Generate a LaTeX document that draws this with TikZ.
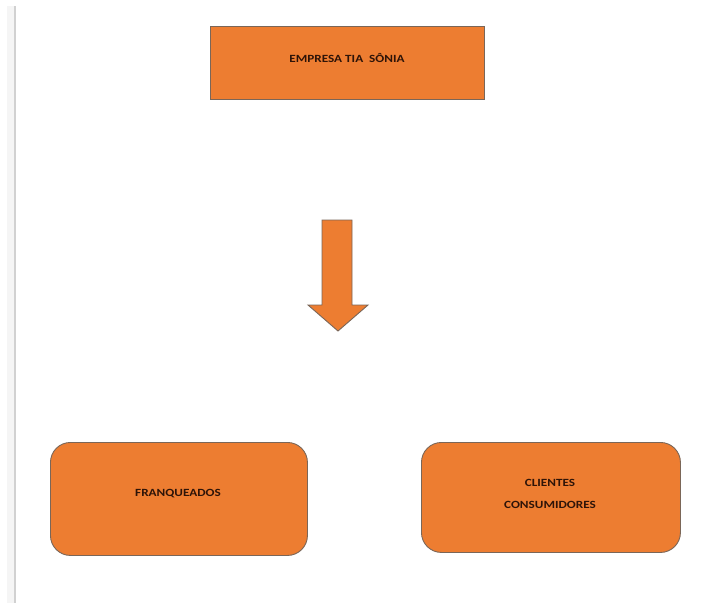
\documentclass[tikz,border=0pt]{standalone}
\usepackage{fontspec}
\setmainfont{Carlito}
\definecolor{boxfill}{HTML}{ED7D31}
\definecolor{boxline}{HTML}{7A6658}
\definecolor{txt}{HTML}{2E1408}
\newcommand{\widetxt}[1]{\scalebox{1.2}[1]{#1}}
\begin{document}
\begin{tikzpicture}[x=1pt,y=-1pt,
  box/.style={draw=boxline,line width=0.9pt,fill=boxfill,inner sep=0pt,anchor=north west},
  lbl/.style={text=txt,font=\bfseries\fontsize{11}{13}\selectfont,align=center}]
\useasboundingbox (0,0) rectangle (715,603);
\fill[white] (0,0) rectangle (715,603);
% page edge
\fill[black!4] (7,6) rectangle (14,603);
\fill[black!18] (14,6) rectangle (16,603);
% top box
\node[box,minimum width=274pt,minimum height=73pt] (emp) at (210,26) {};
\node[lbl] (empt) at (347,58) {\widetxt{EMPRESA TIA\ \ SÔNIA}};
% block arrow
\draw[boxline,line width=0.9pt,fill=boxfill,line join=miter]
  (322,220) -- (352,220) -- (352,305) -- (368,305) -- (338,331) -- (308,305) -- (322,305) -- cycle;
% bottom boxes
\node[box,rounded corners=20pt,minimum width=257pt,minimum height=113pt] (fr) at (50,442) {};
\node[lbl] (frt) at (178,494) {\widetxt{FRANQUEADOS}};
\node[box,rounded corners=20pt,minimum width=259pt,minimum height=110pt] (cl) at (421,442) {};
\node[lbl] (clt1) at (550,483) {\widetxt{CLIENTES}};
\node[lbl] (clt2) at (550,505) {\widetxt{CONSUMIDORES}};
\end{tikzpicture}
\end{document}
